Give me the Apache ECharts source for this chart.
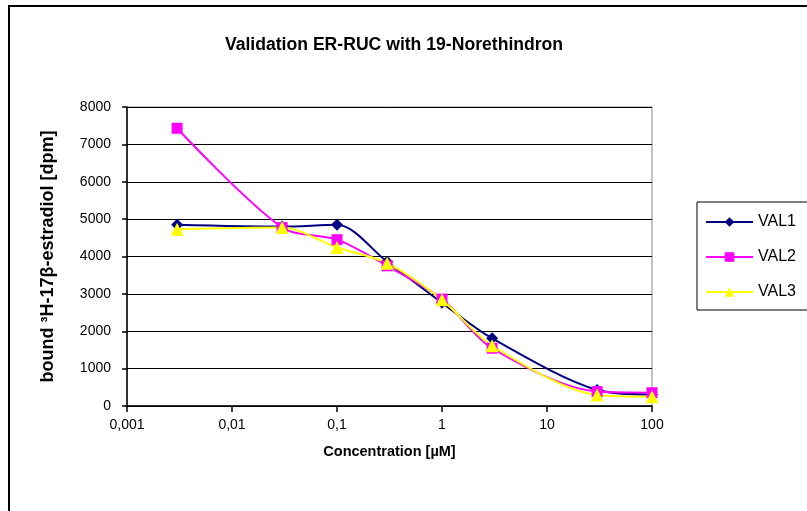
<!DOCTYPE html>
<html><head><meta charset="utf-8">
<script src="https://cdn.jsdelivr.net/npm/echarts@6/dist/echarts.min.js"></script>
<style>html,body{margin:0;padding:0;background:#fff}#c{width:807px;height:511px}</style>
</head><body><div id="c"></div>
<script>
const concentrations = [0.003, 0.03, 0.1, 0.3, 1, 3, 30, 100];
const val1 = [4850, 4800, 4850, 3860, 2760, 1810, 430, 310];
const val2 = [7430, 4775, 4450, 3750, 2860, 1545, 385, 355];
const val3 = [4730, 4775, 4240, 3820, 2840, 1615, 295, 250];
const seriesNames = ['VAL1', 'VAL2', 'VAL3'];
const yTicks = [0, 1000, 2000, 3000, 4000, 5000, 6000, 7000, 8000];

const FONT = 'Liberation Sans, Arial, sans-serif';
const pair = arr => concentrations.map((c, i) => [c, arr[i]]);
const chart = echarts.init(document.getElementById('c'), null, {renderer: 'canvas'});
const mk = (name, data, color, symbol, size) => ({
  name, type: 'line', data: pair(data), smooth: 0.3,
  symbol, symbolSize: size,
  lineStyle: {color, width: 2},
  itemStyle: {color},
  emphasis: {disabled: true}
});
chart.setOption({
  animation: false,
  backgroundColor: '#fff',
  title: {
    text: 'Validation ER-RUC with 19-Norethindron',
    left: 389, textAlign: 'center', top: 31,
    textStyle: {fontFamily: FONT, fontSize: 17.6, fontWeight: 'bold', color: '#000'}
  },
  graphic: [{
    type: 'rect', z: 100, silent: true,
    shape: {x: 9, y: 6, width: 900, height: 600},
    style: {fill: 'none', stroke: '#000', lineWidth: 2}
  }],
  legend: {
    orient: 'vertical', left: 697, top: 202,
    data: seriesNames,
    borderColor: '#000', borderWidth: 1, borderRadius: 0,
    padding: [12, 40, 10, 8],
    itemGap: 19, itemWidth: 47, itemHeight: 12,
    textStyle: {fontFamily: FONT, fontSize: 16, color: '#000'}
  },
  grid: {left: 127, right: 155, top: 107, bottom: 105, show: true, borderColor: '#888', borderWidth: 1},
  xAxis: {
    type: 'log', logBase: 10, min: 0.001, max: 100,
    name: 'Concentration [µM]', nameLocation: 'middle', nameGap: 38,
    nameTextStyle: {fontFamily: FONT, fontSize: 14.5, fontWeight: 'bold', color: '#000'},
    axisLine: {onZero: false, lineStyle: {color: '#000', width: 1.5}},
    axisTick: {length: 6, lineStyle: {color: '#000', width: 1.5}},
    splitLine: {show: false},
    minorTick: {show: false},
    axisLabel: {
      fontFamily: FONT, fontSize: 14, color: '#000', margin: 12,
      formatter: v => String(Number(Number(v).toPrecision(6))).replace('.', ',')
    }
  },
  yAxis: {
    type: 'value', min: yTicks[0], max: yTicks[yTicks.length - 1], interval: 1000,
    position: 'left',
    name: 'bound ³H-17β-estradiol [dpm]', nameLocation: 'middle', nameGap: 70,
    nameTextStyle: {fontFamily: FONT, fontSize: 18, fontWeight: 'bold', color: '#000'},
    axisLine: {show: true, lineStyle: {color: '#000', width: 1.5}},
    axisTick: {show: true, length: 5, lineStyle: {color: '#000', width: 1.5}},
    splitLine: {lineStyle: {color: '#000', width: 1.2}},
    axisLabel: {fontFamily: FONT, fontSize: 14, color: '#000', margin: 16, formatter: v => String(v)}
  },
  series: [
    mk(seriesNames[0], val1, '#000080', 'diamond', 12),
    mk(seriesNames[1], val2, '#FF00FF', 'rect', 11),
    mk(seriesNames[2], val3, '#FFFF00', 'triangle', 13)
  ]
});
</script></body></html>
